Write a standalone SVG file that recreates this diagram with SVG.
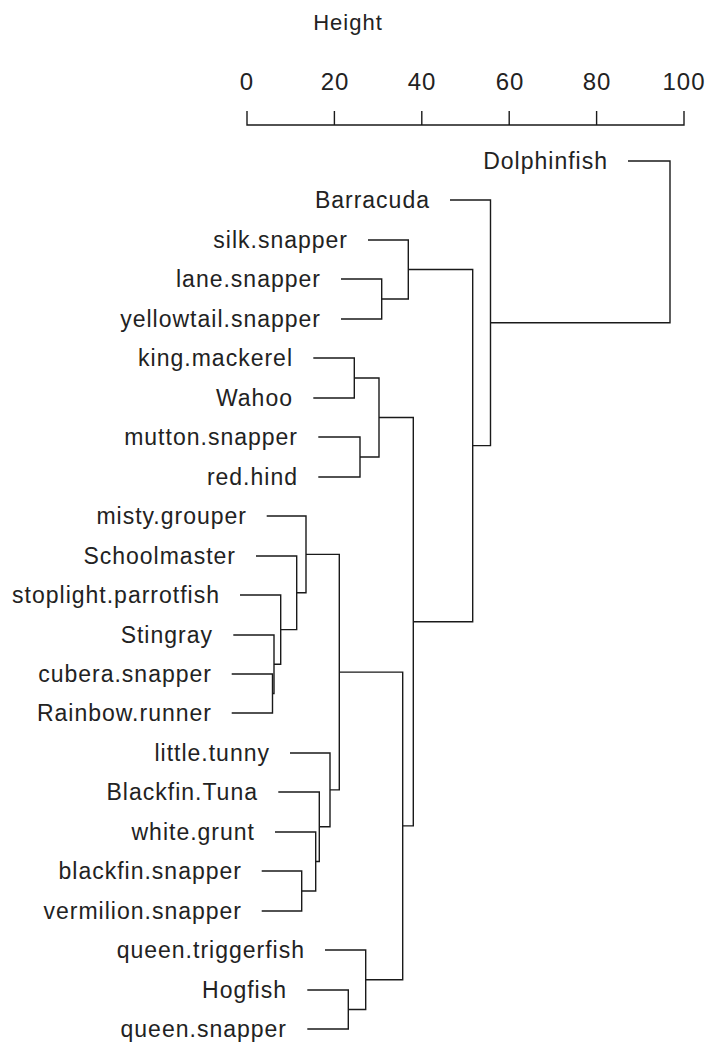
<svg xmlns="http://www.w3.org/2000/svg" width="708" height="1042" viewBox="0 0 708 1042">
<style>
text{font-family:"Liberation Sans",Arial,sans-serif;font-size:23px;letter-spacing:1px;fill:#222}
.lab{text-anchor:end}
.ax{text-anchor:middle;font-size:24px}
.ttl{text-anchor:middle;font-size:22px}
path,line{fill:none;stroke:#1a1a1a;stroke-width:1.4}
</style>
<rect width="708" height="1042" fill="#fff"/>
<g id="axis">
<text class="ttl" x="348" y="30">Height</text>
<text class="ax" x="247" y="90">0</text>
<text class="ax" x="335" y="90">20</text>
<text class="ax" x="422" y="90">40</text>
<text class="ax" x="510" y="90">60</text>
<text class="ax" x="597" y="90">80</text>
<text class="ax" x="684" y="90">100</text>
<path d="M247 111V125H684V111M334.4 111V125M421.8 111V125M509.2 111V125M596.6 111V125"/>
</g>
<g id="connectors">
<path d="M628 161H670V322.8H490.5"/>
<path d="M450 200H490.5V445.6H472.7"/>
<path d="M408.3 269.5H472.7V621.7H413.3"/>
<path d="M368 240H408.3V299H381.7"/>
<path d="M341 279H381.7V319H341"/>
<path d="M379 417.5H413.3V825.9H402.7"/>
<path d="M354.3 378H379V457H360"/>
<path d="M313.3 358H354.3V398H313.3"/>
<path d="M318.3 437H360V477H318.3"/>
<path d="M339.3 672.1H402.7V979.75H365.7"/>
<path d="M306 554.4H339.3V789.9H330"/>
<path d="M266.7 516H306V592.8H296.7"/>
<path d="M256 556H296.7V629.6H280.7"/>
<path d="M240 595H280.7V664.25H274"/>
<path d="M233.3 635H274V693.5H272.5"/>
<path d="M231.7 674H272.5V713H231.7"/>
<path d="M290 753H330V826.75H319.3"/>
<path d="M278.3 792H319.3V861.5H315.7"/>
<path d="M275 832H315.7V891H301.7"/>
<path d="M261.7 871H301.7V911H261.7"/>
<path d="M325 950H365.7V1009.5H348.3"/>
<path d="M307.3 990H348.3V1029H307.3"/>
</g>
<g id="n-dolphinfish"><text class="lab" x="608" y="169">Dolphinfish</text></g>
<g id="n-barracuda"><text class="lab" x="430" y="208">Barracuda</text></g>
<g id="n-silk-snapper"><text class="lab" x="348" y="248">silk.snapper</text></g>
<g id="n-lane-snapper"><text class="lab" x="321" y="287">lane.snapper</text></g>
<g id="n-yellowtail-snapper"><text class="lab" x="321" y="327">yellowtail.snapper</text></g>
<g id="n-king-mackerel"><text class="lab" x="293" y="366">king.mackerel</text></g>
<g id="n-wahoo"><text class="lab" x="293" y="406">Wahoo</text></g>
<g id="n-mutton-snapper"><text class="lab" x="298" y="445">mutton.snapper</text></g>
<g id="n-red-hind"><text class="lab" x="298" y="485">red.hind</text></g>
<g id="n-misty-grouper"><text class="lab" x="247" y="524">misty.grouper</text></g>
<g id="n-schoolmaster"><text class="lab" x="236" y="564">Schoolmaster</text></g>
<g id="n-stoplight-parrotfish"><text class="lab" x="220" y="603">stoplight.parrotfish</text></g>
<g id="n-stingray"><text class="lab" x="213" y="643">Stingray</text></g>
<g id="n-cubera-snapper"><text class="lab" x="212" y="682">cubera.snapper</text></g>
<g id="n-rainbow-runner"><text class="lab" x="212" y="721">Rainbow.runner</text></g>
<g id="n-little-tunny"><text class="lab" x="270" y="761">little.tunny</text></g>
<g id="n-blackfin-tuna"><text class="lab" x="258" y="800">Blackfin.Tuna</text></g>
<g id="n-white-grunt"><text class="lab" x="255" y="840">white.grunt</text></g>
<g id="n-blackfin-snapper"><text class="lab" x="242" y="879">blackfin.snapper</text></g>
<g id="n-vermilion-snapper"><text class="lab" x="242" y="919">vermilion.snapper</text></g>
<g id="n-queen-triggerfish"><text class="lab" x="305" y="958">queen.triggerfish</text></g>
<g id="n-hogfish"><text class="lab" x="287" y="998">Hogfish</text></g>
<g id="n-queen-snapper"><text class="lab" x="287" y="1037">queen.snapper</text></g>
</svg>
